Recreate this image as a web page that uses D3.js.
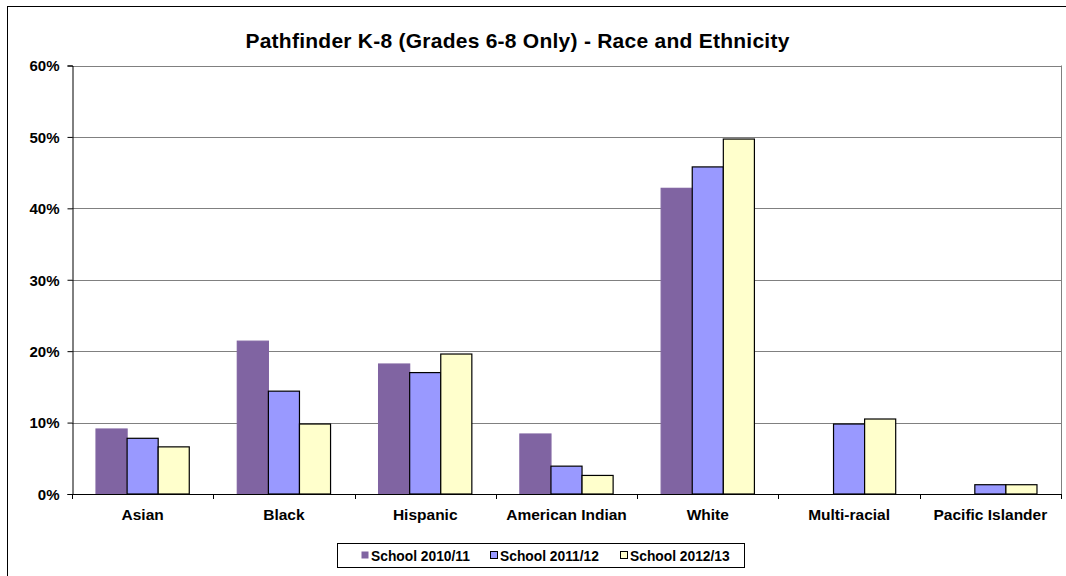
<!DOCTYPE html>
<html><head><meta charset="utf-8">
<script src="https://cdn.jsdelivr.net/npm/d3@7"></script>
<style>
html,body{margin:0;padding:0;background:#fff;}
svg{display:block;font-family:"Liberation Sans",Arial,sans-serif;}
text{font-family:"Liberation Sans",Arial,sans-serif;font-weight:bold;}
</style></head>
<body>
<svg id="c" width="1066" height="576"></svg>
<script>
const title = "Pathfinder K-8 (Grades 6-8 Only) - Race and Ethnicity";
const categories = ["Asian","Black","Hispanic","American Indian","White","Multi-racial","Pacific Islander"];
const seriesNames = ["School 2010/11","School 2011/12","School 2012/13"];
const s2010 = [9.1, 21.4, 18.2, 8.4, 42.8, 0, 0];
const s2011 = [7.8, 14.4, 17.0, 3.9, 45.8, 9.8, 1.3];
const s2012 = [6.6, 9.8, 19.6, 2.6, 49.7, 10.5, 1.3];
const yTicks = [0, 10, 20, 30, 40, 50, 60];
const colors = ["#8064A2", "#9999FF", "#FFFFCC"];
const strokes = ["#8064A2", "#000", "#000"];

const seriesVals = [s2010, s2011, s2012];
const svg = d3.select("#c");
const L = 72, R = 1061, T = 65.5, B = 494;

svg.append("rect").attr("x",7.5).attr("y",6.5).attr("width",1070).attr("height",580)
  .attr("fill","#fff").attr("stroke","#000").attr("stroke-width",1);

const y = d3.scaleLinear().domain([0,60]).range([B,T]);
const x0 = d3.scaleBand().domain(categories).range([L,R]).padding(0);
const bw = x0.bandwidth();
const gw = bw*0.66;
const x1 = d3.scaleBand().domain(seriesNames).range([(bw-gw)/2,(bw+gw)/2]).padding(0);

svg.append("g").selectAll("line").data(yTicks.filter(d=>d>0)).join("line")
  .attr("x1",L).attr("x2",R).attr("y1",d=>Math.round(y(d))+0.5).attr("y2",d=>Math.round(y(d))+0.5)
  .attr("stroke","#808080").attr("stroke-width",1);
svg.append("line").attr("x1",R+0.5).attr("x2",R+0.5).attr("y1",T).attr("y2",B)
  .attr("stroke","#808080");

seriesNames.forEach((s,i)=>{
  svg.append("g").selectAll("rect").data(categories.map((c,j)=>({c,v:seriesVals[i][j]})).filter(d=>d.v>0))
    .join("rect")
    .attr("x",d=>x0(d.c)+x1(s))
    .attr("y",d=>y(d.v))
    .attr("width",x1.bandwidth())
    .attr("height",d=>B-y(d.v))
    .attr("fill",colors[i])
    .attr("stroke",strokes[i]).attr("stroke-width",1.2);
});

const yAxis = d3.axisLeft(y).tickValues(yTicks).tickFormat(d=>d+"%").tickSize(5).tickPadding(8);
const gy = svg.append("g").attr("transform",`translate(${L+0.5},0)`).call(yAxis);
gy.attr("font-family",null).attr("font-size",null);
gy.select(".domain").attr("stroke","#000");
gy.selectAll(".tick line").attr("stroke","#000");
gy.selectAll(".tick text").style("font-size","15px").attr("fill","#000").attr("dy","0.36em");

const boundaries = d3.range(categories.length+1).map(i=>L+i*bw);
svg.append("line").attr("x1",L).attr("x2",R+1).attr("y1",B+0.5).attr("y2",B+0.5).attr("stroke","#000");
svg.append("g").selectAll("line").data(boundaries).join("line")
  .attr("x1",d=>Math.round(d)+0.5).attr("x2",d=>Math.round(d)+0.5).attr("y1",B).attr("y2",B+5).attr("stroke","#000");
const xAxis = d3.axisBottom(x0).tickSize(0).tickPadding(0);
const gx = svg.append("g").attr("transform",`translate(0,${B})`).call(xAxis);
gx.attr("font-family",null).attr("font-size",null);
gx.select(".domain").remove();
gx.selectAll(".tick text").style("font-size","15.5px").attr("fill","#000")
  .attr("dy",null).attr("y",26);

svg.append("text").attr("x",517.5).attr("y",47.5).attr("text-anchor","middle")
  .style("font-size","21px").style("letter-spacing","0.25px").text(title);

const lg = svg.append("g");
lg.append("rect").attr("x",337.5).attr("y",543.5).attr("width",407).attr("height",24)
  .attr("fill","#fff").attr("stroke","#000");
const lx = [361, 490, 620];
seriesNames.forEach((s,i)=>{
  lg.append("rect").attr("x",lx[i]+0.5).attr("y",551.5).attr("width",7).attr("height",7)
    .attr("fill",colors[i]).attr("stroke",i===0?"none":"#000").attr("stroke-width",1);
  lg.append("text").attr("x",lx[i]+10).attr("y",560.5).style("font-size","13.8px").text(s);
});
</script>
</body></html>
